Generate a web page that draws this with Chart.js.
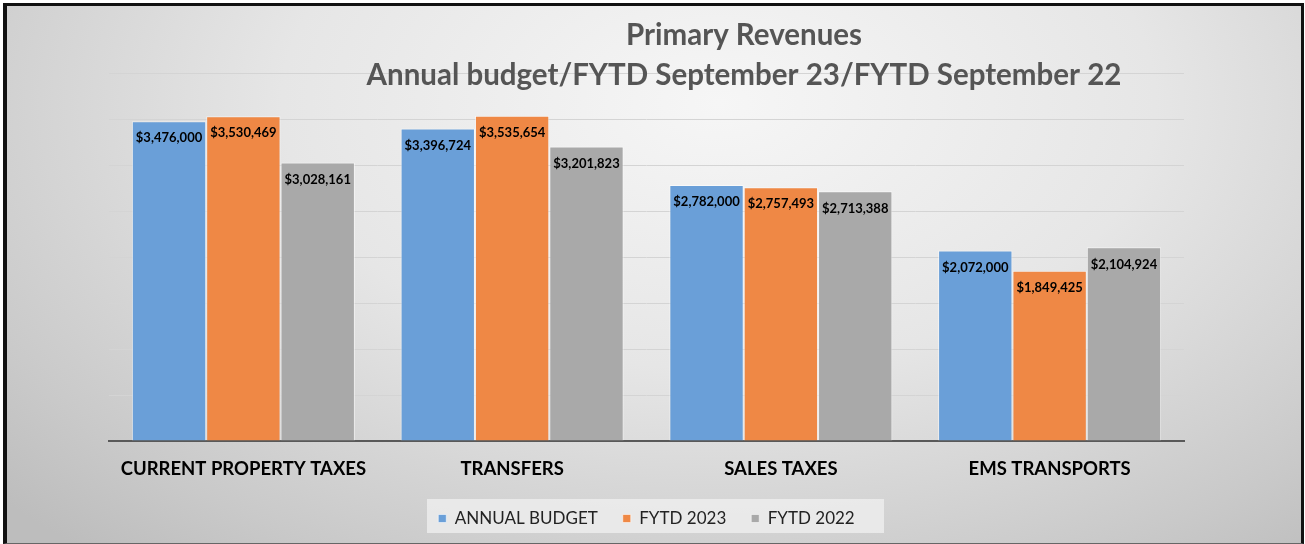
<!DOCTYPE html>
<html>
<head>
<meta charset="utf-8">
<script src="https://cdn.jsdelivr.net/npm/chart.js@4/dist/chart.umd.min.js"></script>
<style>
  html, body { margin: 0; padding: 0; background: #fff; }
  #frame {
    position: absolute; left: 3px; top: 3px;
    width: 1301px; height: 541px; box-sizing: border-box;
    border-top: 3px solid #111; border-left: 4px solid #111; border-right: 3px solid #111;
    border-bottom: 1px solid #666;
    background: radial-gradient(ellipse 75% 110% at 55% 18%, #f6f6f6 0%, #e6e6e6 45%, #c9c9c9 85%, #bdbdbd 100%);
  }
  #chart { display: block; }
</style>
</head>
<body>
<div id="frame"><canvas id="chart" width="1294" height="537"></canvas></div>
<script>
  // Données du graphique
  const categories = ['CURRENT PROPERTY TAXES', 'TRANSFERS', 'SALES TAXES', 'EMS TRANSPORTS'];
  const annualBudget = [3476000, 3396724, 2782000, 2072000];
  const fytd2023 = [3530469, 3535654, 2757493, 1849425];
  const fytd2022 = [3028161, 3201823, 2713388, 2104924];
  const seriesNames = ['ANNUAL BUDGET', 'FYTD 2023', 'FYTD 2022'];
  const titleLines = ['Primary Revenues', 'Annual budget/FYTD September 23/FYTD September 22'];

  const colors = {
    blue: '#6a9fd8',
    orange: '#ef8845',
    gray: '#a9a9a9',
    title: '#555555',
    axis: '#595959',
    grid: '#d4d4d4'
  };

  function formatMoney(v) {
    return '$' + v.toLocaleString('en-US');
  }

  // Étiquettes de valeur à l'intérieur, en haut des barres
  const valueLabels = {
    id: 'valueLabels',
    afterDatasetsDraw(chart) {
      const ctx = chart.ctx;
      ctx.save();
      ctx.font = 'bold 13px Lato, sans-serif';
      ctx.fillStyle = '#000';
      ctx.textAlign = 'center';
      ctx.textBaseline = 'middle';
      chart.data.datasets.forEach((ds, i) => {
        chart.getDatasetMeta(i).data.forEach((bar, j) => {
          ctx.fillText(formatMoney(ds.data[j]), bar.x, bar.y + 17);
        });
      });
      ctx.restore();
    }
  };

  // Titre sur deux lignes (décalé à droite comme dans l'original)
  const twoLineTitle = {
    id: 'twoLineTitle',
    afterDraw(chart) {
      const ctx = chart.ctx;
      ctx.save();
      ctx.font = 'bold 29.5px Lato, sans-serif';
      ctx.fillStyle = colors.title;
      ctx.textAlign = 'center';
      ctx.textBaseline = 'middle';
      ctx.fillText(titleLines[0], 737, 29);
      ctx.fillText(titleLines[1], 737, 69);
      ctx.restore();
    }
  };

  // Fond clair derrière la légende
  const legendBox = {
    id: 'legendBox',
    beforeDraw(chart) {
      const ctx = chart.ctx;
      ctx.save();
      ctx.fillStyle = 'rgba(240,240,240,0.75)';
      ctx.fillRect(420, 493, 457, 34);
      ctx.restore();
    }
  };

  new Chart(document.getElementById('chart'), {
    type: 'bar',
    data: {
      labels: categories,
      datasets: [
        { label: seriesNames[0], data: annualBudget, backgroundColor: colors.blue },
        { label: seriesNames[1], data: fytd2023, backgroundColor: colors.orange },
        { label: seriesNames[2], data: fytd2022, backgroundColor: colors.gray }
      ].map(ds => Object.assign(ds, {
        borderColor: 'rgba(255,255,255,0.55)',
        borderWidth: 1,
        categoryPercentage: 0.83,
        barPercentage: 1
      }))
    },
    options: {
      responsive: false,
      animation: false,
      layout: { padding: { top: 67, left: 102, right: 117, bottom: 6 } },
      plugins: {
        title: { display: false },
        tooltip: { enabled: false },
        legend: {
          position: 'bottom',
          labels: {
            boxWidth: 8,
            boxHeight: 8,
            padding: 25,
            color: '#222',
            font: { family: 'Lato, sans-serif', size: 17 }
          }
        }
      },
      scales: {
        y: {
          min: 0,
          max: 4000000,
          ticks: { display: false, stepSize: 500000 },
          grid: { color: colors.grid, lineWidth: 1, drawTicks: false },
          border: { display: false },
          afterFit(scale) { scale.width = 0; }
        },
        x: {
          ticks: {
            color: '#000',
            padding: 17,
            font: { family: 'Lato, sans-serif', size: 18.5, weight: 'bold' }
          },
          grid: { display: false, drawTicks: false },
          border: { display: true, color: colors.axis, width: 2 },
          afterFit(scale) { scale.height = 44; }
        }
      }
    },
    plugins: [legendBox, valueLabels, twoLineTitle]
  });
</script>
</body>
</html>
